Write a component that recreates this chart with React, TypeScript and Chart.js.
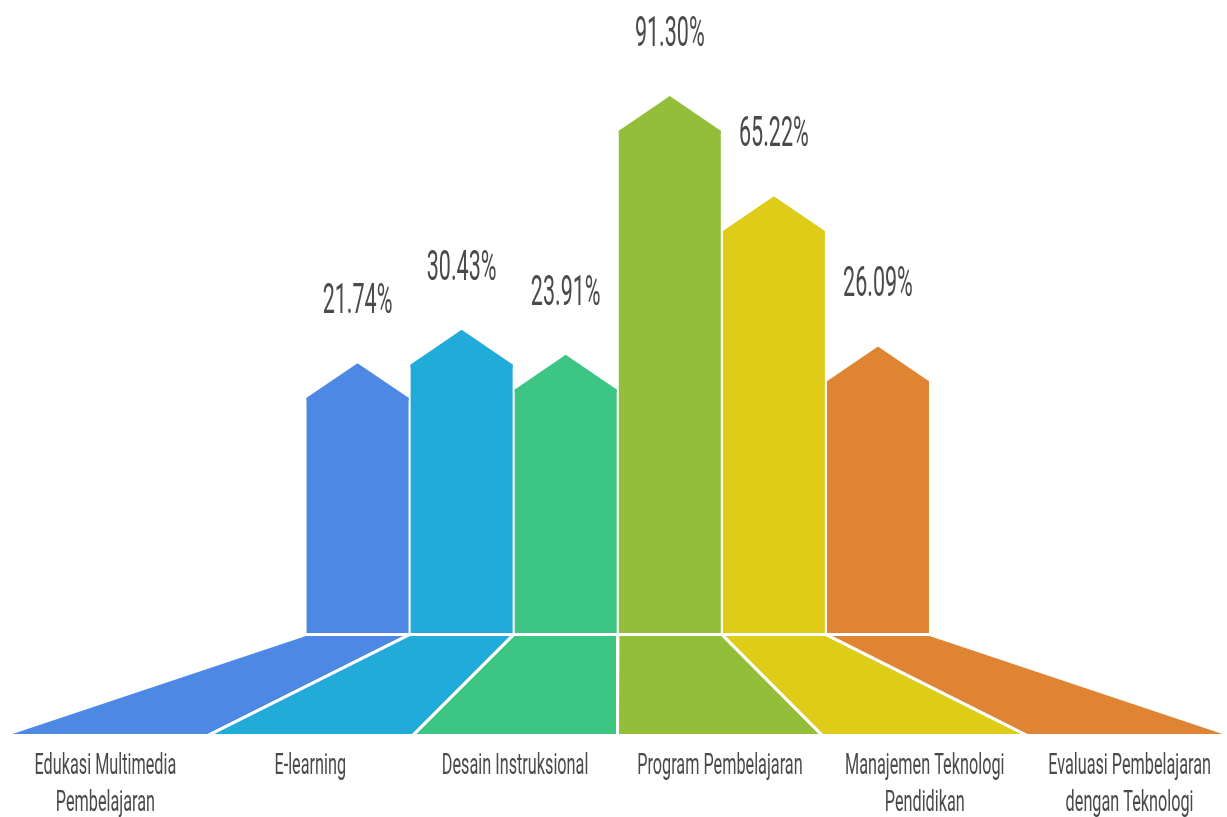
import React, { useEffect, useRef } from "react";
import { Chart, registerables } from "chart.js";

Chart.register(...registerables);

// ---- data ----
const CATEGORIES: string[][] = [
  ["Edukasi Multimedia", "Pembelajaran"],
  ["E-learning"],
  ["Desain Instruksional"],
  ["Program Pembelajaran"],
  ["Manajemen Teknologi", "Pendidikan"],
  ["Evaluasi Pembelajaran", "dengan Teknologi"],
];
const VALUES: number[] = [21.74, 30.43, 23.91, 91.3, 65.22, 26.09];
const COLORS: string[] = ["#4d88e4", "#20abd9", "#3dc584", "#93be3a", "#dfcc18", "#de8432"];

// ---- axis range ----
const Y_MIN = -39.5;
const Y_MAX = 110;

// ---- layout / style ----
const W = 1227;
const H = 817;
const TEXT_COLOR = "#4a4a4a";
const CAP_RATIO = 0.34;
const FLOOR_LEFT = 3;
const FLOOR_RIGHT = 1232;
const FLOOR_BOTTOM = 735.5;
const FLOOR_GAP = 1.5;
const VALUE_FONT = "43px Roboto";
const VALUE_SX = 0.5;
const VALUE_OFFSET = 50;
const LABEL_FONT = "29px Roboto";
const LABEL_SX = 0.56;
const LABEL_OFFSET = 38;
const LABEL_LINE = 37.5;

const arrowFloorPlugin = {
  id: "arrowFloor",
  afterDatasetsDraw(chart: any) {
    const ctx: CanvasRenderingContext2D = chart.ctx;
    const meta = chart.getDatasetMeta(0);
    const area = chart.chartArea;
    const n = meta.data.length;
    const seg = (FLOOR_RIGHT - FLOOR_LEFT) / n;
    const floorTop = area.bottom + FLOOR_GAP;
    const bars = meta.data.map((el: any) => el.getProps(["x", "y", "width"], true));

    ctx.save();
    // arrow caps
    bars.forEach((b: any, i: number) => {
      const l = b.x - b.width / 2;
      const r = b.x + b.width / 2;
      ctx.beginPath();
      ctx.moveTo(l, b.y + 3);
      ctx.lineTo(l, b.y);
      ctx.lineTo(b.x, b.y - b.width * CAP_RATIO);
      ctx.lineTo(r, b.y);
      ctx.lineTo(r, b.y + 3);
      ctx.closePath();
      ctx.fillStyle = COLORS[i];
      ctx.fill();
    });

    // floor polygons
    const polys = bars.map((b: any, i: number) => {
      const l = b.x - b.width / 2 - 1;
      const r = b.x + b.width / 2 + 1;
      return [
        [l, floorTop],
        [r, floorTop],
        [FLOOR_LEFT + (i + 1) * seg, FLOOR_BOTTOM],
        [FLOOR_LEFT + i * seg, FLOOR_BOTTOM],
      ];
    });
    polys.forEach((p: number[][], i: number) => {
      ctx.beginPath();
      p.forEach((pt, k) => (k === 0 ? ctx.moveTo(pt[0], pt[1]) : ctx.lineTo(pt[0], pt[1])));
      ctx.closePath();
      ctx.fillStyle = COLORS[i];
      ctx.fill();
    });
    ctx.strokeStyle = "#ffffff";
    ctx.lineWidth = 3;
    ctx.lineJoin = "round";
    polys.forEach((p: number[][]) => {
      ctx.beginPath();
      p.forEach((pt, k) => (k === 0 ? ctx.moveTo(pt[0], pt[1]) : ctx.lineTo(pt[0], pt[1])));
      ctx.closePath();
      ctx.stroke();
    });

    // value labels
    ctx.fillStyle = TEXT_COLOR;
    ctx.textAlign = "center";
    ctx.textBaseline = "alphabetic";
    bars.forEach((b: any, i: number) => {
      const peak = b.y - b.width * CAP_RATIO;
      ctx.save();
      ctx.translate(b.x, peak - VALUE_OFFSET);
      ctx.scale(VALUE_SX, 1);
      ctx.font = VALUE_FONT;
      ctx.fillText(VALUES[i].toFixed(2) + "%", 0, 0);
      ctx.restore();
    });

    // category labels
    const labels = chart.data.labels as string[][];
    labels.forEach((lines, i) => {
      const cx = FLOOR_LEFT + (i + 0.5) * seg;
      lines.forEach((line, k) => {
        ctx.save();
        ctx.translate(cx, FLOOR_BOTTOM + LABEL_OFFSET + k * LABEL_LINE);
        ctx.scale(LABEL_SX, 1);
        ctx.font = LABEL_FONT;
        ctx.fillText(line, 0, 0);
        ctx.restore();
      });
    });
    ctx.restore();
  },
};

export default function App() {
  const ref = useRef<HTMLCanvasElement | null>(null);
  useEffect(() => {
    if (!ref.current) return;
    const chart = new Chart(ref.current, {
      type: "bar",
      data: {
        labels: CATEGORIES as any,
        datasets: [
          {
            data: VALUES,
            backgroundColor: COLORS,
            borderWidth: 0,
            base: Y_MIN,
            barPercentage: 1,
            categoryPercentage: 0.98,
          } as any,
        ],
      },
      options: {
        animation: false,
        responsive: true,
        maintainAspectRatio: false,
        events: [],
        layout: { padding: { left: 305.5, right: 297, top: 59, bottom: 184 } },
        plugins: { legend: { display: false }, tooltip: { enabled: false } },
        scales: {
          x: { display: false, grid: { display: false } },
          y: { display: false, min: Y_MIN, max: Y_MAX, grid: { display: false } },
        },
      },
      plugins: [arrowFloorPlugin],
    });
    return () => chart.destroy();
  }, []);
  return (
    <div style={{ position: "absolute", left: 0, top: 0, width: W, height: H, background: "#fff" }}>
      <canvas ref={ref} />
    </div>
  );
}
